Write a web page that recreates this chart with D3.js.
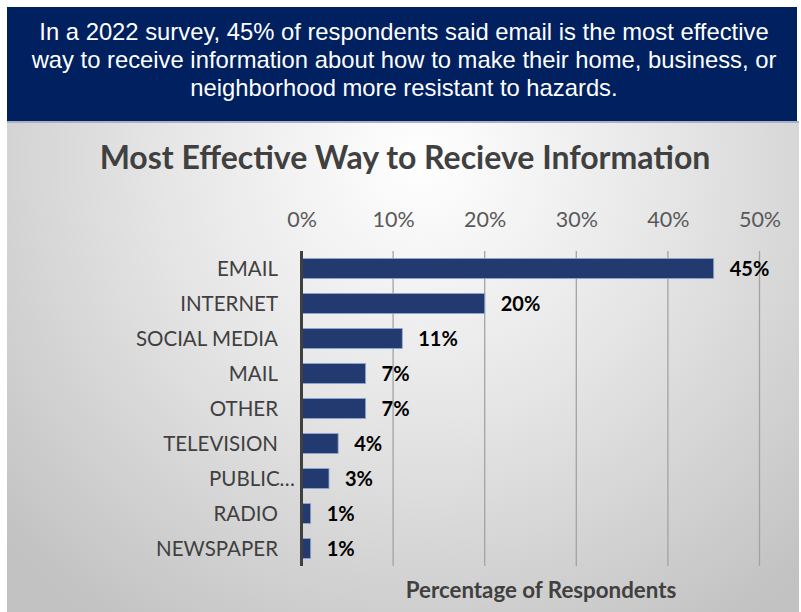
<!DOCTYPE html>
<html>
<head>
<meta charset="utf-8">
<script src="https://cdn.jsdelivr.net/npm/d3@7"></script>
<style>
  html, body { margin: 0; padding: 0; background: #ffffff; }
  svg { display: block; }
</style>
</head>
<body>
<svg id="chart" width="801" height="612"></svg>
<script>
// Survey results: most effective way to receive hazard-mitigation information
const headline = [
  "In a 2022 survey, 45% of respondents said email is the most effective",
  "way to receive information about how to make their home, business, or",
  "neighborhood more resistant to hazards."
];
const chartTitle = "Most Effective Way to Recieve Information";
const axisTitle = "Percentage of Respondents";
const categories = ["EMAIL", "INTERNET", "SOCIAL MEDIA", "MAIL", "OTHER", "TELEVISION", "PUBLIC\u2026", "RADIO", "NEWSPAPER"];
const percents = [45, 20, 11, 7, 7, 4, 3, 1, 1];
const tickValues = [0, 10, 20, 30, 40, 50];

const svg = d3.select("#chart");
const W = 801, H = 612;

// ---- background panel with soft radial shading
const defs = svg.append("defs");
const grad = defs.append("radialGradient")
  .attr("id", "panelShade")
  .attr("gradientUnits", "userSpaceOnUse")
  .attr("cx", 420).attr("cy", 160).attr("r", 560);
grad.append("stop").attr("offset", "0%").attr("stop-color", "#ffffff");
grad.append("stop").attr("offset", "45%").attr("stop-color", "#e6e6e6");
grad.append("stop").attr("offset", "100%").attr("stop-color", "#c2c2c2");

svg.append("rect")
  .attr("x", 7).attr("y", 121).attr("width", 792).attr("height", H - 121)
  .attr("fill", "url(#panelShade)");

// ---- headline banner
svg.append("rect")
  .attr("x", 7).attr("y", 7).attr("width", 790).attr("height", 114)
  .attr("fill", "#00205f");
svg.append("rect")
  .attr("x", 7).attr("y", 121).attr("width", 792).attr("height", 2)
  .attr("fill", "#a8b2c4");

svg.append("g")
  .selectAll("text")
  .data(headline)
  .join("text")
  .attr("x", 404)
  .attr("y", (d, i) => 40 + i * 28)
  .attr("text-anchor", "middle")
  .attr("fill", "#ffffff")
  .attr("font-family", "'Liberation Sans', Arial, sans-serif")
  .attr("font-size", 23.8)
  .text(d => d);

// ---- chart title
svg.append("text")
  .attr("x", 405).attr("y", 169)
  .attr("text-anchor", "middle")
  .attr("fill", "#404040")
  .attr("font-family", "Lato, 'Open Sans', sans-serif")
  .attr("font-weight", 700)
  .attr("font-size", 32)
  .text(chartTitle);

// ---- scales
const x = d3.scaleLinear().domain([0, 50]).range([301.5, 759.5]);
const y = d3.scaleBand().domain(categories).range([251, 566]).paddingInner(0.43).paddingOuter(0.215);

// gridlines
svg.append("g")
  .selectAll("line")
  .data(tickValues.filter(t => t > 0))
  .join("line")
  .attr("x1", d => x(d)).attr("x2", d => x(d))
  .attr("y1", 251).attr("y2", 566)
  .attr("stroke", "#a3a3a3")
  .attr("stroke-width", 1.3);

// top axis tick labels
const xAxis = d3.axisTop(x)
  .tickValues(tickValues)
  .tickFormat(d => d + "%")
  .tickSize(0)
  .tickPadding(0);
const gx = svg.append("g")
  .attr("transform", "translate(0,227)")
  .call(xAxis);
gx.select(".domain").remove();
gx.selectAll("text")
  .attr("fill", "#595959")
  .attr("font-family", "Lato, 'Open Sans', sans-serif")
  .attr("font-size", 21.5)
  .attr("dy", 0);

// bars
svg.append("g")
  .selectAll("rect")
  .data(categories)
  .join("rect")
  .attr("x", x(0))
  .attr("y", d => y(d))
  .attr("width", (d, i) => x(percents[i]) - x(0))
  .attr("height", y.bandwidth())
  .attr("fill", "#223a70")
  .attr("stroke", "#8fa6d2")
  .attr("stroke-width", 0.8);

// vertical axis line
svg.append("line")
  .attr("x1", x(0)).attr("x2", x(0))
  .attr("y1", 251).attr("y2", 566)
  .attr("stroke", "#404040")
  .attr("stroke-width", 3);

// category labels
const yAxis = d3.axisLeft(y).tickSize(0).tickPadding(0);
const gy = svg.append("g")
  .attr("transform", "translate(278,0)")
  .call(yAxis);
gy.select(".domain").remove();
gy.selectAll("text")
  .attr("fill", "#404040")
  .attr("font-family", "Lato, 'Open Sans', sans-serif")
  .attr("font-size", 20.5)
  .attr("dy", "0.36em")
  .attr("x", d => d.endsWith("\u2026") ? 17 : 0);

// value labels
svg.append("g")
  .selectAll("text")
  .data(categories)
  .join("text")
  .attr("x", (d, i) => x(percents[i]) + 16)
  .attr("y", d => y(d) + y.bandwidth() / 2)
  .attr("dy", "0.36em")
  .attr("fill", "#000000")
  .attr("font-family", "Lato, 'Open Sans', sans-serif")
  .attr("font-weight", 700)
  .attr("font-size", 20)
  .text((d, i) => percents[i] + "%");

// axis title
svg.append("text")
  .attr("x", 541).attr("y", 598)
  .attr("text-anchor", "middle")
  .attr("fill", "#404040")
  .attr("font-family", "Lato, 'Open Sans', sans-serif")
  .attr("font-weight", 700)
  .attr("font-size", 22.3)
  .text(axisTitle);
</script>
</body>
</html>
